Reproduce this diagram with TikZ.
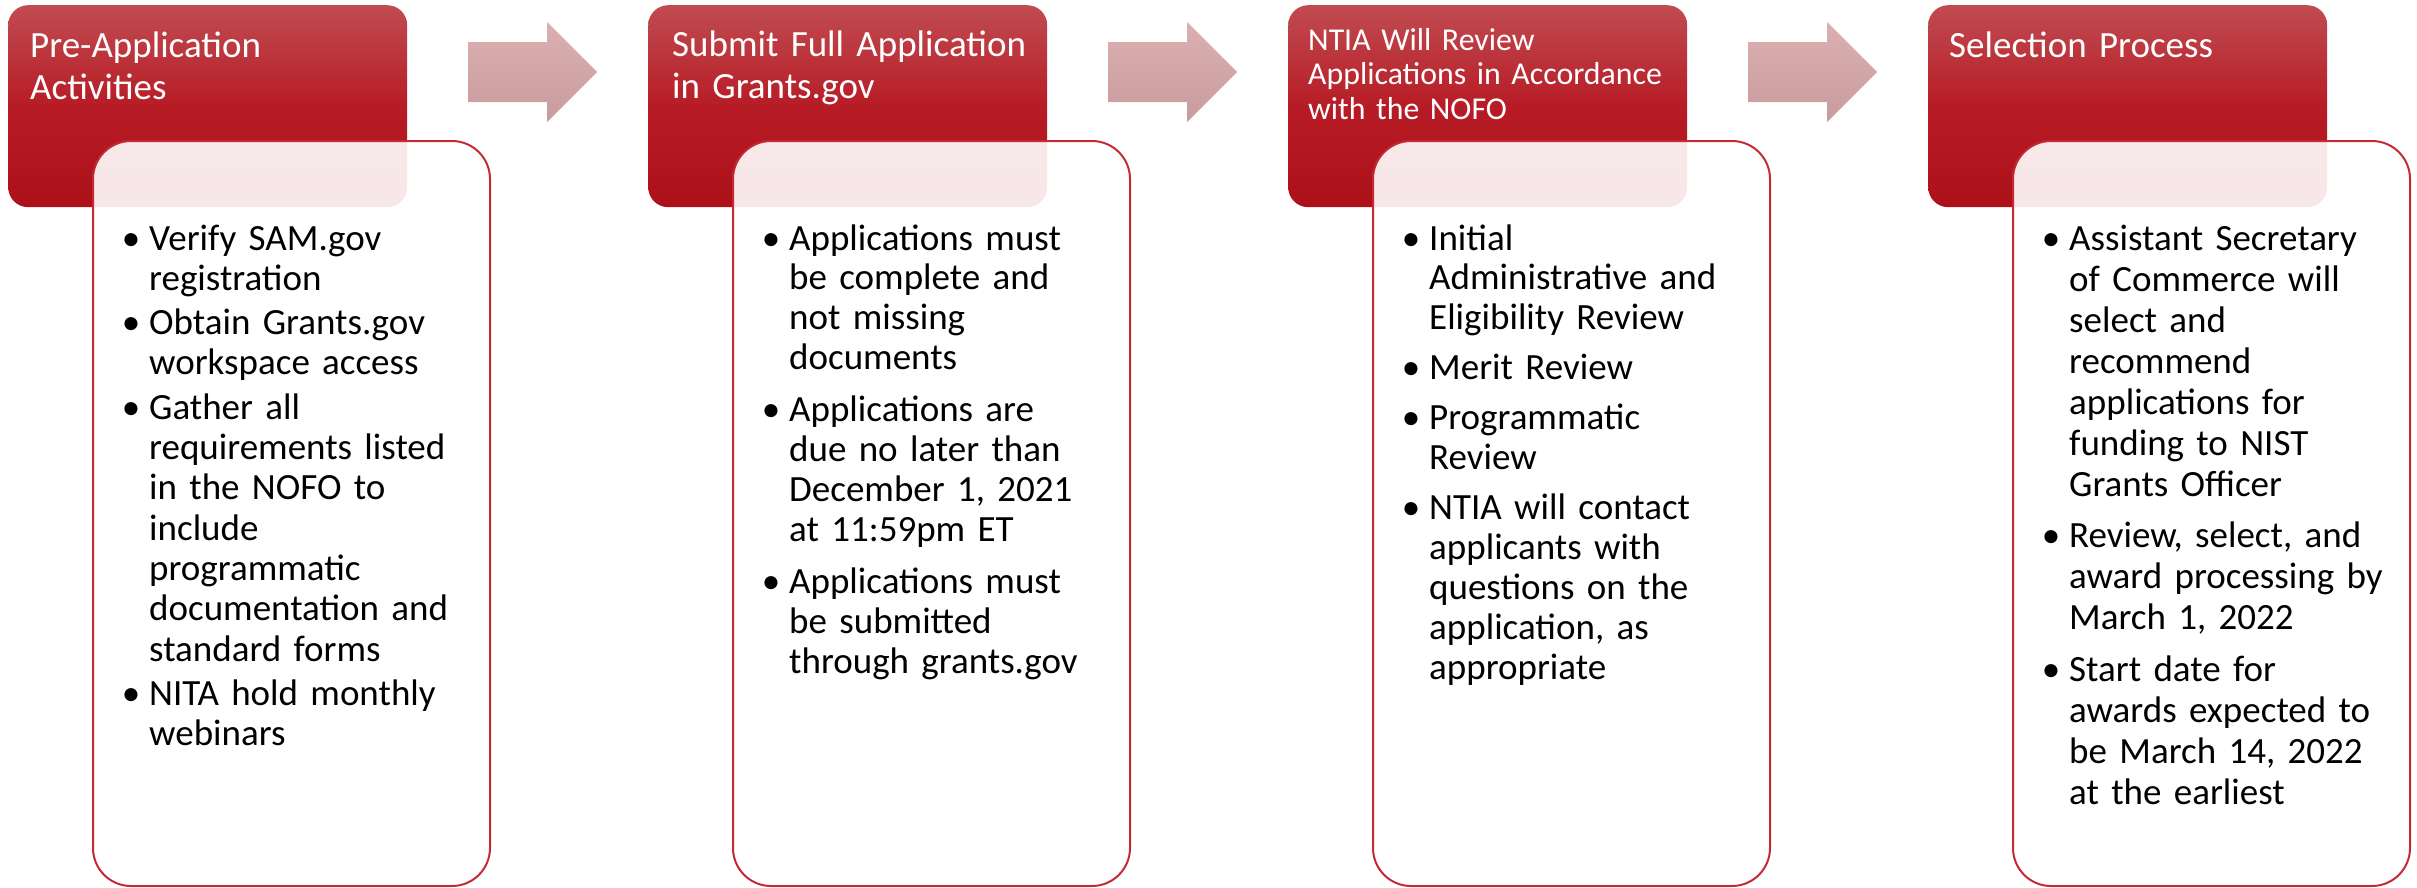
\documentclass[tikz,border=0pt]{standalone}
\usepackage{fontspec}
\setmainfont{Carlito}
\definecolor{hdTop}{RGB}{192,76,81}
\definecolor{hdMid}{RGB}{183,28,38}
\definecolor{hdBot}{RGB}{172,16,25}
\definecolor{arTop}{RGB}{220,176,177}
\definecolor{arBot}{RGB}{200,154,156}
\definecolor{boxRed}{RGB}{196,42,52}
\newcommand{\bl}{\leavevmode\llap{\textbullet\hspace{9pt}}}
\begin{document}
\begin{tikzpicture}[x=1pt,y=-1pt,
  redbox/.style={rounded corners=20pt, minimum width=399pt, minimum height=202pt,
    inner sep=0pt, anchor=north west, top color=hdTop, bottom color=hdBot, middle color=hdMid},
  bodybox/.style={rounded corners=38pt, minimum width=397pt, minimum height=745pt,
    inner sep=0pt, anchor=north west, fill=white, fill opacity=0.9, draw=boxRed, line width=2pt},
  hdtext/.style={anchor=base west, inner sep=0pt, text=white, align=left, text width=380pt,
    font=\fontsize{37}{42}\selectfont},
  hdsmall/.style={hdtext, font=\fontsize{31.8}{34.5}\selectfont},
  bodytext/.style={anchor=base west, inner sep=0pt, text=black, align=left, text width=345pt},
  arrowfill/.style={top color=arTop, bottom color=arBot, draw=none}
]
\useasboundingbox (0,0) rectangle (2417,887);

% header boxes
\node[redbox] (r1) at (8,5) {};
\node[redbox] (r2) at (648,5) {};
\node[redbox] (r3) at (1288,5) {};
\node[redbox] (r4) at (1928,5) {};

% header texts
\node[hdtext] (h1) at (30,57) {Pre-Application\\Activities};
\node[hdtext] (h2) at (672,56) {Submit Full Application\\in Grants.gov};
\node[hdsmall] (h3) at (1308,50) {NTIA Will Review\\Applications in Accordance\\with the NOFO};
\node[hdtext] (h4) at (1949,57) {Selection Process};

% arrows
\foreach \i in {0,1,2}{
  \pgfmathsetmacro{\xa}{468+640*\i}
  \pgfmathsetmacro{\xb}{\xa+79}
  \pgfmathsetmacro{\xc}{\xa+129}
  \path[arrowfill] (\xa,42) -- (\xb,42) -- (\xb,22) -- (\xc,72) -- (\xb,122) -- (\xb,102) -- (\xa,102) -- cycle;
}

% body boxes
\node[bodybox] (b1) at (92,140) {};
\node[bodybox] (b2) at (732,140) {};
\node[bodybox] (b3) at (1372,140) {};
\node[bodybox] (b4) at (2012,140) {};

% body texts
\node[bodytext, font=\fontsize{37}{40.3}\selectfont\setlength{\parskip}{4pt}] (t1) at (149,250) {%
\bl Verify SAM.gov\\registration\par
\bl Obtain Grants.gov\\workspace access\par
\bl Gather all\\requirements listed\\in the NOFO to\\include\\programmatic\\documentation and\\standard forms\par
\bl NITA hold monthly\\webinars};

\node[bodytext, font=\fontsize{37}{39.9}\selectfont\setlength{\parskip}{12pt}] (t2) at (789,250) {%
\bl Applications must\\be complete and\\not missing\\documents\par
\bl Applications are\\due no later than\\December 1, 2021\\at 11:59pm ET\par
\bl Applications must\\be submitted\\through grants.gov};

\node[bodytext, font=\fontsize{37}{39.9}\selectfont\setlength{\parskip}{10pt}] (t3) at (1429,250) {%
\bl Initial\\Administrative and\\Eligibility Review\par
\bl Merit Review\par
\bl Programmatic\\Review\par
\bl NTIA will contact\\applicants with\\questions on the\\application, as\\appropriate};

\node[bodytext, font=\fontsize{37}{41}\selectfont\setlength{\parskip}{10.5pt}] (t4) at (2069,250) {%
\bl Assistant Secretary\\of Commerce will\\select and\\recommend\\applications for\\funding to NIST\\Grants Officer\par
\bl Review, select, and\\award processing by\\March 1, 2022\par
\bl Start date for\\awards expected to\\be March 14, 2022\\at the earliest};
\end{tikzpicture}
\end{document}
